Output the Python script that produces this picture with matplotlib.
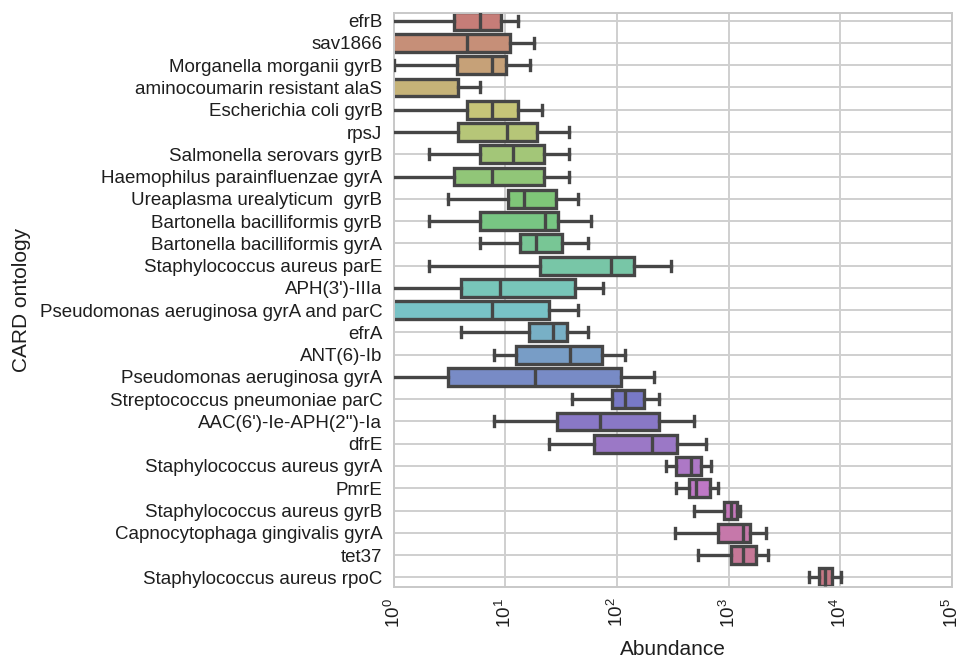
import colorsys
import numpy as np
import matplotlib
matplotlib.use("Agg")
import matplotlib.pyplot as plt

plt.rcParams["mathtext.fontset"] = "custom"
plt.rcParams["mathtext.rm"] = "Liberation Sans"
plt.rcParams["mathtext.it"] = "Liberation Sans:italic"
plt.rcParams["mathtext.bf"] = "Liberation Sans:bold"

categories = [
    "efrB", "sav1866", "Morganella morganii gyrB", "aminocoumarin resistant alaS",
    "Escherichia coli gyrB", "rpsJ", "Salmonella serovars gyrB",
    "Haemophilus parainfluenzae gyrA", "Ureaplasma urealyticum  gyrB",
    "Bartonella bacilliformis gyrB", "Bartonella bacilliformis gyrA",
    "Staphylococcus aureus parE", "APH(3')-IIIa", "Pseudomonas aeruginosa gyrA and parC",
    "efrA", "ANT(6)-Ib", "Pseudomonas aeruginosa gyrA", "Streptococcus pneumoniae parC",
    "AAC(6')-Ie-APH(2'')-Ia", "dfrE", "Staphylococcus aureus gyrA", "PmrE",
    "Staphylococcus aureus gyrB", "Capnocytophaga gingivalis gyrA", "tet37",
    "Staphylococcus aureus rpoC",
]

whisker_low = [0.5, 0.5, 1.0, 0.5, 0.5, 0.5, 2.06, 0.5, 3.06, 2.06, 5.93, 2.06, 0.5, 0.5,
               3.99, 7.96, 0.5, 39.2, 8.0, 24.7, 275, 341, 487, 333, 533, 5265]
q1 = [3.5, 0.5, 3.73, 0.5, 4.58, 3.81, 5.93, 3.49, 10.6, 5.93, 13.5, 20.3, 3.99, 0.5,
      16.2, 12.6, 3.06, 90.8, 29.0, 62.0, 338, 444, 908, 798, 1042, 6457]
median = [5.9, 4.58, 7.63, 0.5, 7.63, 10.4, 11.7, 7.63, 14.6, 22.8, 18.7, 89.1, 9.06, 7.54,
          27.0, 38.0, 18.3, 118, 71.0, 206, 462, 505, 1057, 1358, 1358, 7345]
q3 = [9.25, 11.1, 10.2, 3.81, 13.0, 19.2, 22.1, 22.4, 28.5, 29.9, 32.2, 143.6, 42.3, 24.4,
      35.4, 74.1, 109, 176, 240, 345, 567, 675, 1194, 1560, 1775, 8433]
whisker_high = [13.0, 18.0, 16.7, 5.93, 21.2, 37.4, 37.4, 36.9, 44.4, 59.1, 55.6, 306, 75.1, 44.4,
                55.6, 117, 213, 236, 492, 625, 701, 798, 1259, 2143, 2263, 10040]

xtick_values = [1, 10, 100, 1000, 10000, 100000]

# seaborn-like "hls" palette, desaturated
n = len(categories)
colors = []
for i in range(n):
    h = (0.01 + i / n) % 1
    r, g, b = colorsys.hls_to_rgb(h, 0.6, 0.65)
    hh, ll, ss = colorsys.rgb_to_hls(r, g, b)
    colors.append(colorsys.hls_to_rgb(hh, ll * 1.04, ss * 0.63))

fig = plt.figure(figsize=(9.61, 6.60), dpi=100)
ax = fig.add_axes([0.4095, 0.1111, 0.5812, 0.8697])

stats = []
for i, c in enumerate(categories):
    stats.append(dict(label=c, whislo=whisker_low[i], q1=q1[i], med=median[i],
                      q3=q3[i], whishi=whisker_high[i], fliers=[]))

edge = "#464646"
lw = 2.4
bp = ax.bxp(stats, positions=np.arange(n), widths=0.8, vert=False, patch_artist=True,
            showfliers=False,
            boxprops=dict(edgecolor=edge, linewidth=lw),
            medianprops=dict(color=edge, linewidth=lw, solid_capstyle="butt"),
            whiskerprops=dict(color=edge, linewidth=lw),
            capprops=dict(color=edge, linewidth=lw),
            capwidths=0.45)
for patch, col in zip(bp["boxes"], colors):
    patch.set_facecolor(col)
    patch.set_zorder(2)
for key in ("medians", "whiskers", "caps"):
    for ln in bp[key]:
        ln.set_zorder(3)

ax.set_xscale("log")
ax.set_xlim(1, 1e5)
ax.set_ylim(25.42, -0.36)
ax.set_xticks(xtick_values)
ax.set_xticklabels([f"$10^{{{int(np.log10(v))}}}$" for v in xtick_values], rotation=90,
                   fontsize=13.5, family="Liberation Sans")
ax.xaxis.set_minor_locator(matplotlib.ticker.NullLocator())
ax.set_yticks(np.arange(n))
ax.set_yticklabels(categories, fontsize=13.5, family="Liberation Sans")
ax.tick_params(axis="both", length=0, pad=8, colors="#1e1e1e")
ax.set_axisbelow(True)
ax.grid(True, color="#cfcfcf", linewidth=1.4)
for s in ax.spines.values():
    s.set_color("#c8c8c8")
    s.set_linewidth(1.4)

ax.set_xlabel("Abundance", fontsize=15, family="Liberation Sans", color="#1e1e1e", labelpad=9)
ax.set_ylabel("CARD ontology", fontsize=15, family="Liberation Sans", color="#1e1e1e")
ax.yaxis.set_label_coords(-0.649, 0.5)

fig.savefig("out.png", dpi=100)
